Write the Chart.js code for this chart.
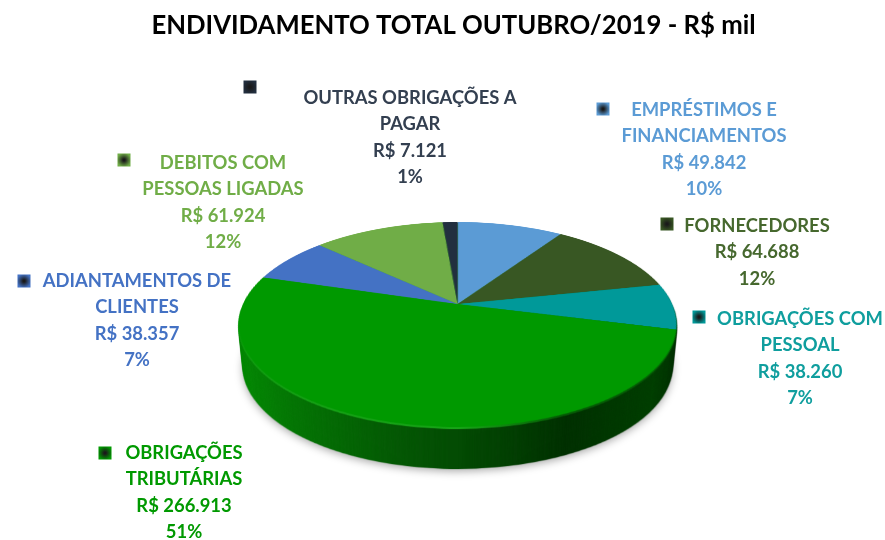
<!DOCTYPE html>
<html lang="pt-BR">
<head>
<meta charset="utf-8">
<title>Endividamento total</title>
<script src="https://cdn.jsdelivr.net/npm/chart.js@4"></script>
<style>
  body { margin: 0; background: #fff; }
  canvas { display: block; filter: blur(0.4px); }
</style>
</head>
<body>
<canvas id="pieChart" width="885" height="540"></canvas>
<script>
// data
const categories = [
    ['EMPRÉSTIMOS E', 'FINANCIAMENTOS'],
    ['FORNECEDORES'],
    ['OBRIGAÇÕES COM', 'PESSOAL'],
    ['OBRIGAÇÕES', 'TRIBUTÁRIAS'],
    ['ADIANTAMENTOS DE', 'CLIENTES'],
    ['DEBITOS COM', 'PESSOAS LIGADAS'],
    ['OUTRAS OBRIGAÇÕES A', 'PAGAR']
];
const values = [49842, 64688, 38260, 266913, 38357, 61924, 7121];
const percents = ['10%', '12%', '7%', '51%', '7%', '12%', '1%'];
const titleText = 'ENDIVIDAMENTO TOTAL OUTUBRO/2019 - R$ mil';

// styles and label layout
const sliceColors = ['#5b9bd5', '#385723', '#009999', '#009900', '#4472c4', '#70ad47', '#222f3f'];
const textColors = ['#5b9bd5', '#46682e', '#0f9e9e', '#009900', '#4472c4', '#70ad47', '#333f50'];
const labelCenterX = [704, 757, 800, 184, 137, 223, 410];
const labelTopY = [110, 226, 319, 453, 281, 163, 98];
const markerX = [603, 667, 699, 105, 24, 124, 250];
const markerY = [109, 224, 317, 453, 281, 160, 87];
const LINE_HEIGHT = 26.3;

// perspective of the pie top: y = centerY + a*v / (1 + c*v), x scaled by 1 / (1 + c*v)
const PIE_X = 458, PIE_Y = 304, PIE_R = 214.6;
const PERSP_A = 98.4, PERSP_C = -0.2, PIE_TOP = 222, PIE_BOTTOM = 428, WALL_DEPTH = 42;

function newCanvas(w, h) {
    const c = document.createElement('canvas');
    c.width = w;
    c.height = h;
    return c;
}

function tinted(source, fill) {
    const c = newCanvas(source.width, source.height);
    const g = c.getContext('2d');
    g.drawImage(source, 0, 0);
    g.globalCompositeOperation = 'source-in';
    g.fillStyle = fill;
    g.fillRect(0, 0, c.width, c.height);
    return c;
}

const tiltPlugin = {
    id: 'tilt',
    afterDatasetsDraw(chart) {
        const ctx = chart.ctx;
        const arc = chart.getDatasetMeta(0).data[0];
        const R = arc.outerRadius, size = Math.ceil(2 * R + 4);
        const sx = arc.x - R - 2, sy = arc.y - R - 2;

        const flat = newCanvas(size, size);
        flat.getContext('2d').drawImage(chart.canvas, sx, sy, size, size, 0, 0, size, size);
        ctx.clearRect(sx, sy, size, size);

        // warp the flat pie row by row
        const top = newCanvas(chart.width, chart.height);
        const tg = top.getContext('2d');
        const toV = y => (y - PIE_Y) / (PERSP_A - PERSP_C * (y - PIE_Y));
        for (let y = PIE_TOP - 2; y < PIE_BOTTOM + 2; y++) {
            const v0 = toV(y), v1 = toV(y + 1);
            const scale = 1 / (1 + PERSP_C * (v0 + v1) / 2);
            const w = size * scale;
            tg.drawImage(flat, 0, R + 2 + v0 * R, size, (v1 - v0) * R, PIE_X - w / 2, y, w, 1);
        }

        // side wall, a little narrower towards the bottom
        const wallFill = ctx.createLinearGradient(239, 0, 677, 0);
        wallFill.addColorStop(0, '#078a07');
        wallFill.addColorStop(0.12, '#067606');
        wallFill.addColorStop(0.35, '#055a05');
        wallFill.addColorStop(0.62, '#034003');
        wallFill.addColorStop(0.75, '#023102');
        wallFill.addColorStop(0.95, '#024002');
        wallFill.addColorStop(1, '#013401');
        const wall = tinted(top, wallFill);
        const drawWall = d => {
            const s = 1 - 0.02 * d / WALL_DEPTH;
            ctx.drawImage(wall, PIE_X * (1 - s), d, wall.width * s, wall.height);
        };
        ctx.save();
        ctx.shadowColor = 'rgba(0,0,0,0.35)';
        ctx.shadowBlur = 8;
        ctx.shadowOffsetY = 2;
        drawWall(WALL_DEPTH);
        ctx.restore();
        for (let d = WALL_DEPTH - 1; d > 0; d--) drawWall(d);

        // light rim on the front edge of the top
        const rimFill = ctx.createLinearGradient(239, 0, 560, 0);
        rimFill.addColorStop(0, '#13a013');
        rimFill.addColorStop(0.7, '#18a518');
        rimFill.addColorStop(1, '#055a05');
        ctx.drawImage(tinted(top, rimFill), 0, 2);

        ctx.drawImage(top, 0, 0);
    },
    afterDraw(chart) {
        const ctx = chart.ctx;
        ctx.save();
        ctx.font = 'bold 18.4px Lato';
        ctx.textAlign = 'center';
        ctx.textBaseline = 'middle';
        categories.forEach((lines, i) => {
            const text = [...lines, 'R$ ' + values[i].toLocaleString('pt-BR'), percents[i]];
            ctx.fillStyle = textColors[i];
            text.forEach((t, n) => ctx.fillText(t, labelCenterX[i], labelTopY[i] + n * LINE_HEIGHT));

            // legend key of the label
            const mx = markerX[i], my = markerY[i];
            const key = ctx.createRadialGradient(mx, my, 1, mx, my, 7);
            key.addColorStop(0, '#1a1a1a');
            key.addColorStop(1, sliceColors[i]);
            ctx.fillStyle = key;
            ctx.fillRect(mx - 6.5, my - 6.5, 13, 13);
        });
        ctx.restore();
    }
};

new Chart(document.getElementById('pieChart'), {
    type: 'pie',
    data: {
        labels: categories.map(c => c.join(' ')),
        datasets: [{
            data: values,
            backgroundColor: sliceColors,
            borderWidth: 0,
            radius: PIE_R
        }]
    },
    options: {
        responsive: false,
        devicePixelRatio: 1,
        animation: false,
        events: [],
        layout: { padding: { left: 22 } },
        plugins: {
            legend: { display: false },
            tooltip: { enabled: false },
            title: {
                display: true,
                text: titleText,
                color: '#000',
                font: { family: 'Lato', size: 25.7, weight: 'bold' },
                padding: { top: 10, bottom: 10 }
            }
        }
    },
    plugins: [tiltPlugin]
});
</script>
</body>
</html>
